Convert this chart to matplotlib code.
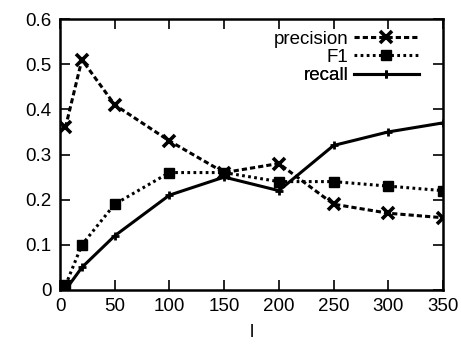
import matplotlib
matplotlib.use("Agg")
import matplotlib.pyplot as plt

plt.rcParams['font.family'] = ['Liberation Sans', 'DejaVu Sans']

x = [5, 20, 50, 100, 150, 200, 250, 300, 350]
precision = [0.36, 0.51, 0.41, 0.33, 0.26, 0.28, 0.19, 0.17, 0.16]
f1 = [0.01, 0.10, 0.19, 0.26, 0.26, 0.24, 0.24, 0.23, 0.22]
recall = [0.0, 0.05, 0.12, 0.21, 0.25, 0.22, 0.32, 0.35, 0.37]
xticks = [0, 50, 100, 150, 200, 250, 300, 350]
yticks = [0, 0.1, 0.2, 0.3, 0.4, 0.5, 0.6]
ytick_labels = ['0', '0.1', '0.2', '0.3', '0.4', '0.5', '0.6']

fig = plt.figure(figsize=(4.61, 3.44), dpi=100)
ax = fig.add_axes([60/461, 1 - 290/344, 383/461, 271/344])

lp, = ax.plot(x, precision, color='black', lw=2.2, ls=(0, (1.7, 1.0)), marker='x',
              ms=8, mew=2.6, label='precision')
lf, = ax.plot(x, f1, color='black', lw=2.2, ls=(0, (0.9, 1.1)), marker='s',
              ms=7, mew=1.0, label='F1')
lr, = ax.plot(x, recall, color='black', lw=2.2, ls='-', marker='+',
              ms=6, mew=2, label='recall')

ax.set_xlim(0, 350)
ax.set_ylim(0, 0.6)
ax.set_xticks(xticks)
ax.set_yticks(yticks)
ax.set_yticklabels(ytick_labels)
ax.tick_params(direction='in', length=7, width=1.2, top=True, right=True,
               labelsize=13.5, pad=6)
for s in ax.spines.values():
    s.set_linewidth(1.8)
ax.set_xlabel('l', fontsize=13.5, labelpad=6)

rows_y = [0.926, 0.860, 0.790]
for h, yy in zip([lp, lf, lr], rows_y):
    leg = ax.legend(handles=[h], loc='center right', bbox_to_anchor=(0.937, yy),
                    frameon=False, fontsize=13.5, markerfirst=False,
                    handlelength=3.47, borderaxespad=0, borderpad=0,
                    handletextpad=0.27)
    ax.add_artist(leg)

fig.savefig('out.png', dpi=100)
